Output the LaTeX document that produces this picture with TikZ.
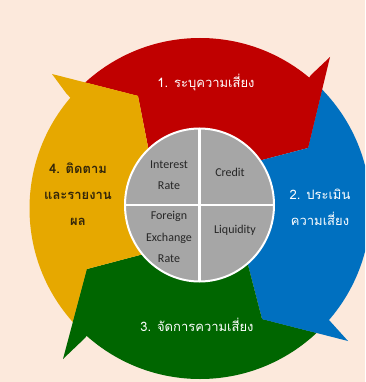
\documentclass[tikz,border=0pt]{standalone}
\usepackage{fontspec}
\setmainfont{Carlito}
\newfontfamily\thaifont[Script=Thai]{Loma}
\definecolor{bgc}{HTML}{FCE9DC}
\definecolor{redA}{HTML}{C00000}
\definecolor{blueA}{HTML}{0070C0}
\definecolor{greenA}{HTML}{006600}
\definecolor{yellowA}{HTML}{E6A800}
\definecolor{grayA}{HTML}{A6A6A6}
\definecolor{txtA}{HTML}{262626}
\definecolor{txtY}{HTML}{33260A}
\tikzset{
  risk/.style={text=txtA, align=center, inner sep=0pt, font=\fontsize{12}{21.5}\selectfont},
  steplabel/.style={text=white, align=center, inner sep=0pt, font=\thaifont\fontsize{13}{26}\selectfont},
}
\begin{document}
\begin{tikzpicture}[x=1pt,y=-1pt]
\clip (0,0) rectangle (365,382);
\fill[bgc] (0,0) rectangle (365,382);
% arrow bodies, clipped to the ring
\begin{scope}
\clip (200,208.5) circle[radius=170.5];
\fill[redA] (200,206) -- (152,167) -- (138,96) -- (52,74) -- (52,-20) -- (330,-20) -- (330,57) -- (308,148) -- (262,160) -- (245,164.5) -- cycle;
\fill[blueA] (200,206) -- (245,164.5) -- (262,160) -- (308,148) -- (330,57) -- (400,57) -- (400,341) -- (348,341) -- (262,319) -- (248,265) -- (244,250) -- cycle;
\fill[greenA] (200,206) -- (244,250) -- (248,265) -- (262,319) -- (348,341) -- (348,420) -- (63,420) -- (63,359) -- (87,269) -- (140,255) -- (158,250) -- cycle;
\fill[yellowA] (200,206) -- (158,250) -- (140,255) -- (87,269) -- (63,359) -- (-20,359) -- (-20,74) -- (52,74) -- (138,96) -- (148,147) -- (152,167) -- cycle;
\end{scope}
% arrow heads
\fill[redA] (280,120) -- (311,75) -- (330,57) -- (308,148) -- cycle;
\fill[blueA] (300,290) -- (329,320) -- (348,341) -- (262,319) -- cycle;
\fill[greenA] (115,300) -- (85,338) -- (63,359) -- (87,269) -- cycle;
\fill[yellowA] (100,130) -- (66,93) -- (52,74) -- (138,96) -- cycle;
% centre disc
\draw[white, line width=2pt, fill=grayA] (199.5,205) ellipse[x radius=74.5, y radius=76.5];
\draw[white, line width=2.5pt] (199.5,128.5) -- (199.5,281.5);
\draw[white, line width=2.5pt] (125,205) -- (274,205);
% texts
\node[risk] (ir) at (169,175) {Interest\\Rate};
\node[risk] (cr) at (230,172) {Credit};
\node[risk] (fx) at (169,237) {Foreign\\Exchange\\Rate};
\node[risk] (lq) at (235,230) {Liquidity};
\node[steplabel] (s1) at (206,83) {1. ระบุความเสี่ยง};
\node[steplabel] (s2) at (320,207) {2. ประเมิน\\ความเสี่ยง};
\node[steplabel] (s3) at (197,325) {3. จัดการความเสี่ยง};
\node[steplabel, text=txtY, font=\thaifont\bfseries\fontsize{13}{26}\selectfont] (s4) at (78,194) {4. ติดตาม\\และรายงาน\\ผล};
\end{tikzpicture}
\end{document}
